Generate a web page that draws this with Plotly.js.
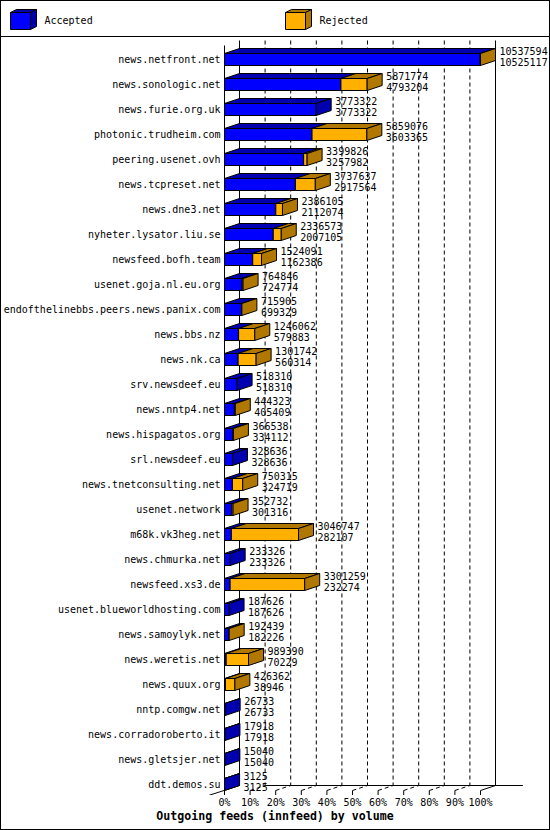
<!DOCTYPE html>
<html><head><meta charset="utf-8">
<script src="https://cdn.plot.ly/plotly-3.0.1.min.js"></script>
<style>
html,body{margin:0;padding:0;background:#fff;}
#chart{width:550px;height:830px;box-sizing:border-box;border:1px solid #000;}
</style>
</head><body><div id="chart"></div>
<script>
// ---------- data ----------
const hosts = [
  'news.netfront.net','news.sonologic.net','news.furie.org.uk','photonic.trudheim.com',
  'peering.usenet.ovh','news.tcpreset.net','news.dne3.net','nyheter.lysator.liu.se',
  'newsfeed.bofh.team','usenet.goja.nl.eu.org','endofthelinebbs.peers.news.panix.com',
  'news.bbs.nz','news.nk.ca','srv.newsdeef.eu','news.nntp4.net','news.hispagatos.org',
  'srl.newsdeef.eu','news.tnetconsulting.net','usenet.network','m68k.vk3heg.net',
  'news.chmurka.net','newsfeed.xs3.de','usenet.blueworldhosting.com','news.samoylyk.net',
  'news.weretis.net','news.quux.org','nntp.comgw.net','news.corradoroberto.it',
  'news.gletsjer.net','ddt.demos.su'
];
const offered = [
  10537594,5871774,3773322,5859076,3399826,3737637,2386105,2336573,1524091,764846,
  715905,1246062,1301742,518310,444323,366538,328636,750315,352732,3046747,
  233326,3301259,187626,192439,989390,426362,26733,17918,15040,3125
];
const accepted = [
  10525117,4793204,3773322,3603365,3257982,2917564,2112074,2007105,1162386,724774,
  699329,579883,560314,518310,405409,334112,328636,324719,301316,282107,
  233326,232274,187626,182226,70229,38946,26733,17918,15040,3125
];
const tickValues = [0,10,20,30,40,50,60,70,80,90,100];
const tickLabels = ['0%','10%','20%','30%','40%','50%','60%','70%','80%','90%','100%'];
const seriesNames = ['Accepted','Rejected'];
const chartTitle = 'Outgoing feeds (innfeed) by volume';

// ---------- style / geometry ----------
const FIG_W = 548, FIG_H = 828;
const PX_PER_PCT = 2.56, ZERO_PX = 223.5, ROW_PX = 25, ROW0_PX = 58.5;
const PLOT_TOP = 36, PLOT_BOTTOM = 794;
const DX = 15 / PX_PER_PCT, DY = 0.2, HALF = 0.24;
const COL = {blue:'#0000FF', blueDark:'#0000B0', orange:'#FFB000', orangeDark:'#B07800', ink:'#000000'};
const MONO = 'DejaVu Sans Mono';

const N = hosts.length;
const maxVal = Math.max(...offered);
const pA = accepted.map(v => 100 * v / maxVal);
const pT = offered.map(v => 100 * v / maxVal);

const TOP_BACK = (39.5 - ROW0_PX) / ROW_PX, TOP_FRONT = TOP_BACK + DY;
const FLOOR_BACK = N - 1 + 0.04, FLOOR_FRONT = FLOOR_BACK + DY;
const TICK_LEN = 0.18, FLOOR_EXT = 10.7;

function seg() { return {x: [], y: []}; }
function addLine(s, pts) { pts.forEach(p => { s.x.push(p[0]); s.y.push(p[1]); }); s.x.push(null); s.y.push(null); }
function addPoly(s, pts) { addLine(s, pts.concat([pts[0]])); }

// back-wall grid + floor grid
const grid = seg(), floorGrid = seg(), walls = seg();
tickValues.forEach(g => {
  if (g > 0 && g < 100) {
    addLine(grid, [[g + DX, TOP_BACK], [g + DX, FLOOR_BACK]]);
    addLine(floorGrid, [[g, FLOOR_FRONT], [g + DX, FLOOR_BACK]]);
  }
  addLine(walls, [[g, FLOOR_FRONT], [g, FLOOR_FRONT + TICK_LEN]]);
});
addLine(walls, [[0, TOP_FRONT], [0, FLOOR_FRONT]]);
addLine(walls, [[DX, TOP_BACK], [DX, FLOOR_BACK]]);
addLine(walls, [[100 + DX, TOP_BACK], [100 + DX, FLOOR_BACK]]);
addLine(walls, [[10 + DX, FLOOR_BACK], [100 + DX + FLOOR_EXT, FLOOR_BACK]]);
addLine(walls, [[DX, FLOOR_BACK], [-1.07 * DX, FLOOR_BACK + 2 * DY]]);
addLine(walls, [[100 + DX, FLOOR_BACK], [100, FLOOR_FRONT]]);

// bar faces
const frontA = seg(), frontR = seg(), topA = seg(), topR = seg(), sideA = seg(), sideR = seg();
for (let i = 0; i < N; i++) {
  const a = pA[i], t = pT[i], yt = i - HALF, yb = i + HALF;
  addPoly(frontA, [[0, yt], [a, yt], [a, yb], [0, yb]]);
  addPoly(topA, [[0, yt], [a, yt], [a + DX, yt - DY], [DX, yt - DY]]);
  const rej = offered[i] - accepted[i];
  if (rej > 0) {
    addPoly(frontR, [[a, yt], [t, yt], [t, yb], [a, yb]]);
    addPoly(topR, [[a, yt], [t, yt], [t + DX, yt - DY], [a + DX, yt - DY]]);
  }
  addPoly(rej > 0 ? sideR : sideA, [[t, yt], [t, yb], [t + DX, yb - DY], [t + DX, yt - DY]]);
}

const lineTrace = (s, dash) => ({type:'scatter', mode:'lines', x:s.x, y:s.y, hoverinfo:'skip',
  line:{color:COL.ink, width:1, dash:dash || 'solid'}, showlegend:false});
const faceTrace = (s, color, name) => ({type:'scatter', mode:'lines', x:s.x, y:s.y, fill:'toself',
  fillcolor:color, name:name, hoverinfo:'skip', line:{color:COL.ink, width:1}, showlegend:false});

const LABEL_PAD = 4 / PX_PER_PCT;
const labelTop = {type:'scatter', mode:'text', x:pT.map(t => t + DX + LABEL_PAD), y:hosts.map((_, i) => i - 0.292),
  text:offered.map(String), textposition:'middle right', textfont:{family:MONO, size:10, color:COL.ink},
  hoverinfo:'skip', showlegend:false, cliponaxis:false};
const labelBot = {type:'scatter', mode:'text', x:pT.map(t => t + DX + LABEL_PAD), y:hosts.map((_, i) => i + 0.148),
  text:accepted.map(String), textposition:'middle right', textfont:{family:MONO, size:10, color:COL.ink},
  hoverinfo:'skip', showlegend:false, cliponaxis:false};

// legend (in its own pixel-unit subplot)
const LEG_X = [10.5, 285.5], LEG_Y = 12.5, LEG_W = 20, LEG_H = 17, LEG_DX = 6, LEG_DY = 3;
const legFront = [COL.blue, COL.orange], legDark = [COL.blueDark, COL.orangeDark];
const legendTraces = [];
LEG_X.forEach((lx, k) => {
  const f = seg(), tp = seg(), sd = seg();
  addPoly(f, [[lx, LEG_Y], [lx + LEG_W, LEG_Y], [lx + LEG_W, LEG_Y + LEG_H], [lx, LEG_Y + LEG_H]]);
  addPoly(tp, [[lx, LEG_Y], [lx + LEG_W, LEG_Y], [lx + LEG_W + LEG_DX, LEG_Y - LEG_DY], [lx + LEG_DX, LEG_Y - LEG_DY]]);
  addPoly(sd, [[lx + LEG_W, LEG_Y], [lx + LEG_W, LEG_Y + LEG_H], [lx + LEG_W + LEG_DX, LEG_Y + LEG_H - LEG_DY], [lx + LEG_W + LEG_DX, LEG_Y - LEG_DY]]);
  [[f, legFront[k]], [tp, legDark[k]], [sd, legDark[k]]].forEach(([s, c]) => {
    const tr = faceTrace(s, c, seriesNames[k]); tr.xaxis = 'x2'; tr.yaxis = 'y2'; legendTraces.push(tr);
  });
});
legendTraces.push({type:'scatter', mode:'text', xaxis:'x2', yaxis:'y2',
  x:LEG_X.map(lx => lx + LEG_W + LEG_DX + 8), y:LEG_X.map(() => 21), text:seriesNames,
  textposition:'middle right', textfont:{family:MONO, size:10, color:COL.ink}, hoverinfo:'skip', showlegend:false, cliponaxis:false});

const data = [
  lineTrace(grid, '4px,3px'), lineTrace(floorGrid, '4px,3px'), lineTrace(walls),
  faceTrace(frontA, COL.blue, seriesNames[0]), faceTrace(frontR, COL.orange, seriesNames[1]),
  faceTrace(topA, COL.blueDark, seriesNames[0]), faceTrace(topR, COL.orangeDark, seriesNames[1]),
  faceTrace(sideA, COL.blueDark, seriesNames[0]), faceTrace(sideR, COL.orangeDark, seriesNames[1]),
  labelTop, labelBot
].concat(legendTraces);

const xr0 = -ZERO_PX / PX_PER_PCT;
const yr0 = (PLOT_TOP - ROW0_PX) / ROW_PX;
const layout = {
  width: FIG_W, height: FIG_H, margin:{l:0, r:0, t:0, b:0},
  paper_bgcolor:'#fff', plot_bgcolor:'rgba(0,0,0,0)', showlegend:false, hovermode:false,
  font:{family:MONO, size:10, color:COL.ink},
  xaxis:{domain:[0,1], range:[xr0, xr0 + FIG_W / PX_PER_PCT], tickvals:tickValues, ticktext:tickLabels,
    ticks:'', showgrid:false, zeroline:false, showline:false, fixedrange:true,
    tickfont:{family:MONO, size:10, color:COL.ink},
    title:{text:chartTitle, font:{family:MONO, size:11.6, weight:'bold', color:COL.ink}, standoff:4}},
  yaxis:{domain:[1 - PLOT_BOTTOM / FIG_H, 1 - PLOT_TOP / FIG_H],
    range:[yr0 + (PLOT_BOTTOM - PLOT_TOP) / ROW_PX, yr0], anchor:'free', position: ZERO_PX / FIG_W,
    tickvals:hosts.map((_, i) => i), ticktext:hosts, ticks:'', ticklabelstandoff:4,
    showgrid:false, zeroline:false, showline:false,
    fixedrange:true, tickfont:{family:MONO, size:10, color:COL.ink}},
  xaxis2:{domain:[0,1], range:[1, 549], visible:false, fixedrange:true, anchor:'y2'},
  yaxis2:{domain:[1 - 35 / FIG_H, 1], range:[36, 1], visible:false, fixedrange:true, anchor:'x2'},
  shapes:[{type:'line', xref:'paper', yref:'paper', x0:0, x1:1, y0:1 - 35.5 / FIG_H, y1:1 - 35.5 / FIG_H,
    line:{color:COL.ink, width:1}}]
};
Plotly.newPlot('chart', data, layout, {staticPlot:true, displayModeBar:false});
</script>
</body></html>
